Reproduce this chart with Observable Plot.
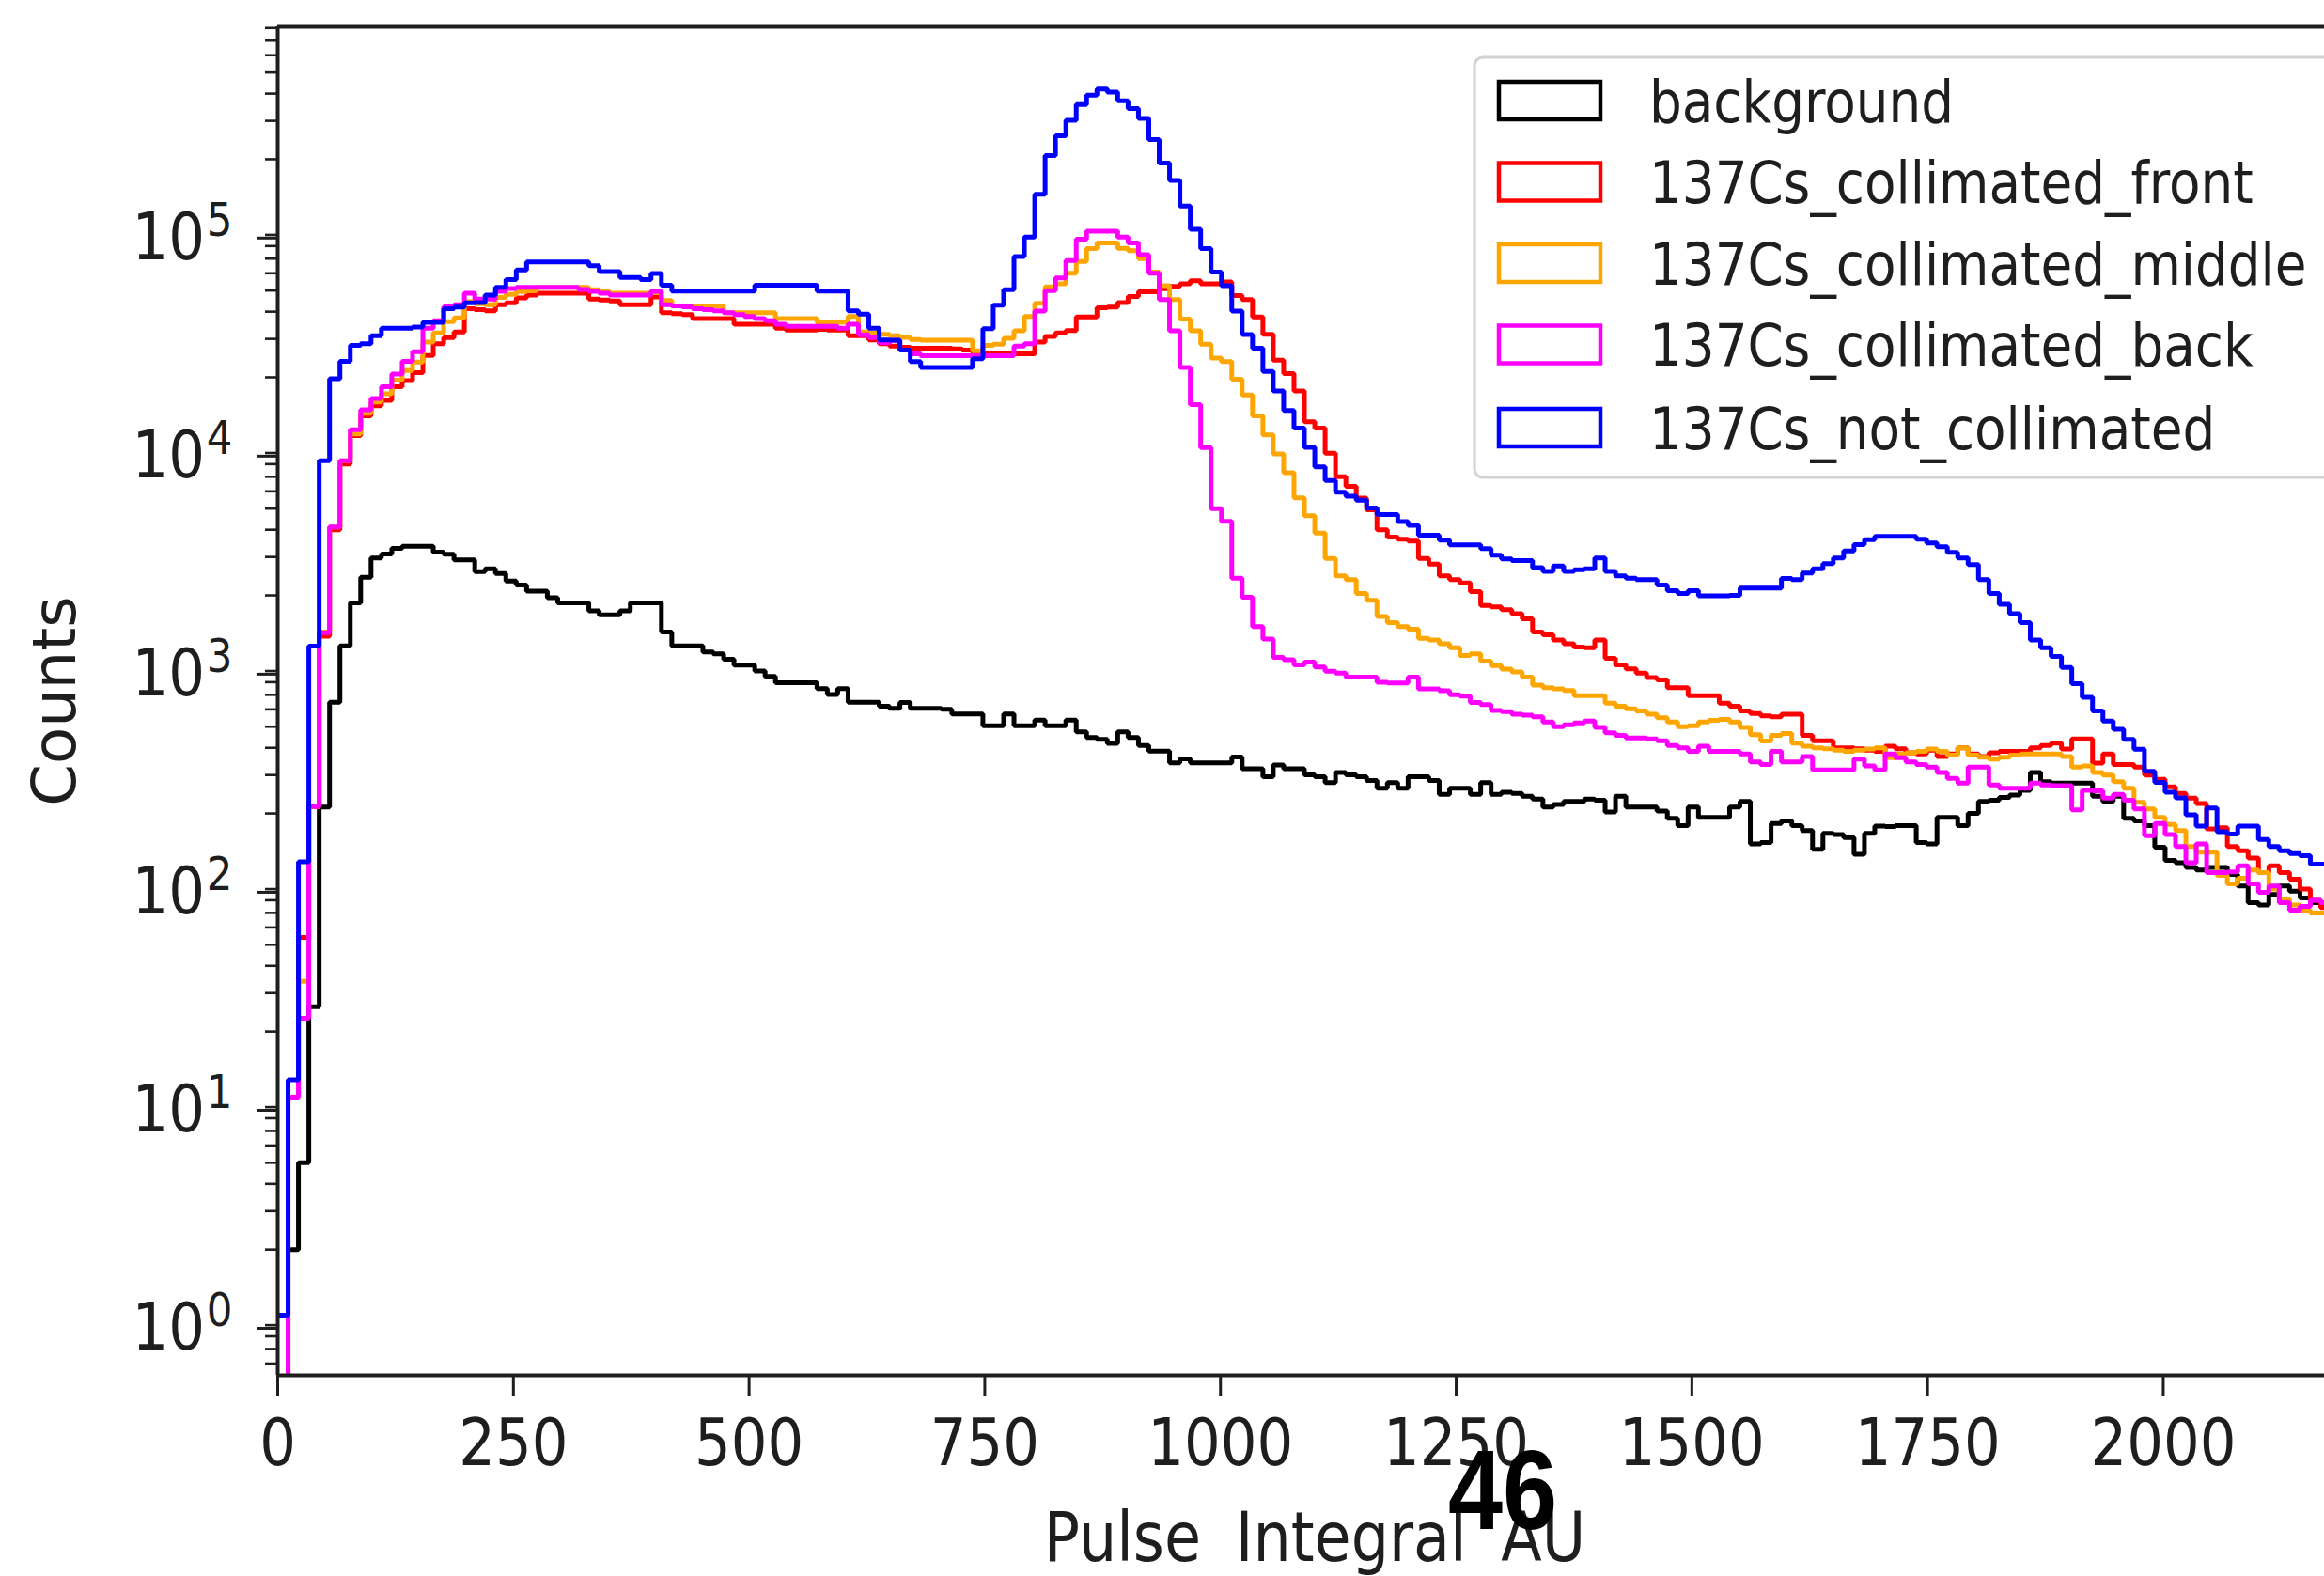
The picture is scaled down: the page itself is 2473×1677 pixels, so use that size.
<!DOCTYPE html>
<html>
<head>
<meta charset="utf-8">
<script src="https://cdn.jsdelivr.net/npm/d3@7"></script>
<script src="https://cdn.jsdelivr.net/npm/@observablehq/plot@0.6"></script>
<style>
html, body { margin: 0; padding: 0; background: #ffffff; }
#wrap { position: relative; width: 2473px; height: 1677px; overflow: hidden; background: #fff; }
svg { overflow: hidden; }
</style>
</head>
<body>
<div id="wrap"></div>
<script>
// ---------------- data (histogram counts per bin, bin width 11 AU starting at 0) ----------------
const binWidth = 11;
const binStart = 0;

const background = [
0.3,2,5,26,214,647,1175,1850,2420,2970,3100,3290,3360,3360,3360,3160,3090,2910,2910,2570,
2650,2520,2330,2230,2090,2090,1950,1850,1850,1850,1700,1630,1630,1700,1850,1850,1850,1360,1175,1175,
1175,1100,1080,1020,957,957,900,850,796,796,796,796,748,703,748,647,647,647,621,607,
645,607,607,607,600,571,571,571,505,505,571,505,505,536,505,505,536,474,446,437,
419,474,446,410,386,386,341,356,341,341,341,341,363,321,321,295,334,321,321,301,
295,277,308,301,295,283,261,277,261,295,295,283,245,261,261,245,277,245,250,247,
240,233,214,220,227,227,233,230,203,240,214,214,214,205,190,176,214,192,192,192,
214,227,145,147,180,185,176,167,137,162,160,155,130,162,175,174,176,176,147,145,
192,192,176,200,227,230,237,243,255,308,280,276,276,276,276,240,227,240,190,185,
176,140,122,119,113,110,113,113,105,93,78,76,85,93,88,82,78,76
];

const collimatedFront = [
0.3,10,54,215,1300,4000,8000,10800,13300,14800,15700,18100,19300,21000,25200,28500,30400,32300,41300,40900,
40400,43000,43900,46300,47600,48600,48600,48600,48600,48600,45700,45200,44800,43000,43000,43000,46700,39600,39200,38800,
37200,37200,37200,37200,35000,35000,35000,35000,33600,32900,32900,32900,33200,32900,32900,31000,31000,29700,28500,27800,
27500,27200,27200,27200,27200,27000,26700,26000,25600,25600,25600,25600,25600,29000,30800,32000,32800,37800,37800,41700,
42000,44000,47000,49400,49400,51000,52200,53700,55500,53700,53700,54800,47400,45500,37800,31500,24000,20800,17300,12500,
11700,8970,7000,6330,5590,4940,4000,3700,3620,3550,2950,2780,2460,2360,2280,2080,1800,1770,1720,1650,
1560,1360,1320,1250,1200,1160,1150,1250,1030,960,920,880,840,820,754,754,693,693,693,640,
620,590,575,560,555,570,570,456,431,431,400,400,396,390,385,407,396,380,375,390,
365,375,400,375,365,380,385,385,385,400,410,420,395,440,440,340,375,335,335,326,
300,287,265,247,235,222,170,172,141,135,125,107,115,107,100,90,80,74
];

const collimatedMiddle = [
0.3,10,34,215,1360,4120,8300,11000,13700,15400,16800,19400,21500,23500,29000,32000,36000,37500,44500,43500,
43000,46500,48000,49500,50000,51700,51700,51700,51700,51700,50500,49500,48600,48600,48600,48600,49000,45000,42500,42500,
42500,42500,42500,39600,39600,39600,39600,39600,37200,37200,37200,37200,35700,35700,35700,38000,32300,32000,31500,31000,
30500,29800,29600,29600,29600,29600,29600,26500,28000,28400,30200,32700,38000,43700,52000,53700,60000,68000,77800,82700,
82700,78000,76200,70000,60700,52600,45500,37000,32700,28400,24500,23600,19600,16600,13300,10900,8900,7300,5600,4640,
3860,2950,2460,2360,2040,1900,1600,1500,1440,1400,1270,1250,1200,1150,1060,1080,1000,953,917,891,
843,776,754,745,733,693,693,693,640,620,603,590,570,550,525,500,505,525,535,540,
525,496,460,430,456,465,420,407,400,396,390,385,390,395,400,360,375,380,385,395,
385,370,400,370,362,355,362,370,375,375,375,375,365,326,330,308,300,280,261,225,
210,192,178,167,141,133,133,104,95,101,110,107,90,81,76,72,70,70
];

const collimatedBack = [
0.3,10,23,215,1350,4120,8300,11500,14200,16000,18100,20700,23700,26200,33600,36400,42100,43000,48600,45700,
45700,49600,51100,51700,51700,51700,51700,51700,51700,50600,49600,48600,47600,47600,47600,47600,49600,43000,42500,42100,
41300,40900,40400,39600,38800,38000,37200,36400,35000,34300,34300,34300,34300,34300,33600,35000,31300,30400,28800,29500,
26700,25600,25100,25100,25100,25100,25100,25100,25100,25100,25100,27800,28500,40300,50000,57100,68700,86000,93500,93500,
93500,88000,82600,73100,60000,45500,32700,22200,15000,9530,5000,4370,2400,1960,1440,1260,1040,1015,960,990,
940,898,880,843,843,843,800,793,793,843,745,745,730,700,690,645,632,594,586,570,
565,555,525,500,510,520,530,496,469,456,444,444,440,431,410,400,385,407,385,385,
385,375,345,335,385,345,345,365,317,317,317,317,355,330,317,375,360,345,335,326,
308,290,276,326,326,270,261,261,261,276,270,268,268,208,255,254,235,245,230,210,
158,180,160,141,119,145,107,107,108,115,95,87,93,78,72,75,80,78
];

const notCollimated = [
1,12,120,1170,8300,19700,23700,28000,28500,31000,33600,33600,33600,34000,35700,35700,41300,42000,43900,44000,
47600,51700,56200,62200,67600,67600,67600,67600,67600,67600,64900,61000,61000,57400,57400,56200,59800,52900,49700,49700,
49700,49700,49700,49700,49700,49700,52900,52900,52900,52900,52900,52900,49700,49700,49700,40400,39000,33600,29700,29600,
26700,23600,22200,22200,22200,22200,22200,24300,33400,42800,50500,71600,87900,138000,208000,256000,302000,356000,394000,420000,
406000,371000,342000,308000,246000,192000,160000,122000,95500,77800,60700,52600,40300,31400,27200,21300,17300,14100,11700,9550,
7770,6730,5940,5700,5470,5040,4700,4700,4360,4190,3780,3780,3580,3410,3410,3410,3280,3060,2940,2890,
2890,2680,2580,2730,2580,2620,2650,2970,2580,2460,2400,2360,2360,2230,2100,2040,2100,1990,1990,1990,
2000,2160,2160,2160,2160,2390,2360,2530,2650,2800,2970,3200,3420,3600,3730,3730,3730,3730,3620,3480,
3340,3150,2970,2770,2360,2040,1820,1650,1500,1250,1150,1050,935,787,681,590,531,487,437,394,
312,278,250,236,197,175,212,165,161,175,175,152,141,135,131,128,117,117
];

const seriesNames = ["background", "137Cs_collimated_front", "137Cs_collimated_middle", "137Cs_collimated_back", "137Cs_not_collimated"];
const seriesValues = [background, collimatedFront, collimatedMiddle, collimatedBack, notCollimated];
const seriesColors = ["#000000", "#ff0000", "#ffa500", "#ff00ff", "#0000ff"];

const xTicks = [0, 250, 500, 750, 1000, 1250, 1500, 1750, 2000];
const yMajorTicks = [1, 10, 100, 1000, 10000, 100000];
const xLabel = "Pulse Integral AU";
const yLabel = "Counts";
const pageNumber = "46";

// ---------------- layout ----------------
const W = 2473, H = 1677;
const SQ = 0.87;              // horizontal squeeze of the source image text
const FONT = "DejaVu Sans";
const INK = "#1e1e1e";
const TICK_FONT = 70;

const yDomain = [0.53, 8.1e5];
const xDomain = [0, 2171];

const yMinorTicks = [];
for (let k = -1; k <= 5; k++) for (let m = 2; m <= 9; m++) {
  const v = m * Math.pow(10, k);
  if (v >= yDomain[0] && v <= yDomain[1]) yMinorTicks.push(v);
}

const supMap = {"0":"⁰","1":"¹","2":"²","3":"³","4":"⁴","5":"⁵","6":"⁶","7":"⁷","8":"⁸","9":"⁹","-":"⁻"};
const fmtPow = d => "10" + String(Math.round(Math.log10(d))).split("").map(c => supMap[c]).join("");

function stepPoints(values) {
  const pts = values.map((v, i) => ({x: binStart + i * binWidth, y: v}));
  pts.push({x: binStart + values.length * binWidth, y: values[values.length - 1]});
  return pts;
}

const lineMarks = seriesValues.map((vals, k) =>
  Plot.line(stepPoints(vals), {
    x: "x", y: "y", curve: "step-after",
    stroke: seriesColors[k], strokeWidth: 5, strokeLinejoin: "miter", clip: true
  })
);

const plot = Plot.plot({
  width: W, height: H,
  marginLeft: 295, marginRight: 0, marginTop: 28, marginBottom: H - 1463,
  style: {fontFamily: FONT, background: "#ffffff", color: INK},
  x: {domain: xDomain, label: null},
  y: {type: "log", domain: yDomain, label: null},
  marks: [
    ...lineMarks,
    Plot.axisY({ticks: yMinorTicks, tickSize: 13, tickFormat: () => "", strokeWidth: 2.6, stroke: INK, label: null}),
    Plot.axisY({ticks: yMajorTicks, tickSize: 22, tickPadding: 26, tickFormat: fmtPow, fontSize: TICK_FONT, fill: INK, stroke: INK, strokeWidth: 3, dy: 14, label: null}),
    Plot.axisX({ticks: xTicks, tickSize: 22, tickPadding: 24, tickFormat: d => String(d), fontSize: TICK_FONT, fill: INK, stroke: INK, strokeWidth: 3, label: null}),
    Plot.ruleX([xDomain[0]], {stroke: INK, strokeWidth: 4}),
    Plot.ruleY([yDomain[0]], {stroke: INK, strokeWidth: 4}),
    Plot.ruleY([yDomain[1]], {stroke: INK, strokeWidth: 4})
  ]
});

document.getElementById("wrap").appendChild(plot);
const svg = d3.select(plot);

// turn unicode superscripts of the y tick labels into a raised, smaller tspan (mathtext look)
const supBack = Object.fromEntries(Object.entries(supMap).map(([k, v]) => [v, k]));
plot.querySelectorAll("text").forEach(t => {
  const s = t.textContent;
  if (/^10[⁰¹²³⁴⁵⁶⁷⁸⁹⁻]+$/.test(s)) {
    const exp = s.slice(2).split("").map(c => supBack[c]).join("");
    while (t.firstChild) t.removeChild(t.firstChild);
    t.appendChild(document.createTextNode("10"));
    const ts = document.createElementNS("http://www.w3.org/2000/svg", "tspan");
    ts.setAttribute("font-size", Math.round(TICK_FONT * 0.72));
    ts.setAttribute("dy", -Math.round(TICK_FONT * 0.36));
    ts.setAttribute("dx", 2);
    ts.textContent = exp;
    t.appendChild(ts);
  }
});

// squeeze existing tick labels horizontally about their anchor
plot.querySelectorAll("text").forEach(t => {
  const tr = t.getAttribute("transform");
  if (tr) {
    t.setAttribute("transform", tr + ` scale(${SQ},1)`);
  } else {
    const x = parseFloat(t.getAttribute("x"));
    if (!isNaN(x)) {
      t.setAttribute("x", 0);
      t.setAttribute("transform", `translate(${x},0) scale(${SQ},1)`);
    }
  }
});

// axis labels
svg.append("text")
  .attr("transform", `translate(80,746) rotate(-90)`)
  .attr("text-anchor", "middle")
  .attr("font-family", FONT).attr("font-size", 64).attr("fill", INK)
  .text(yLabel);

svg.append("text")
  .attr("transform", `translate(1399,1661) scale(${SQ},1)`)
  .attr("text-anchor", "middle")
  .attr("font-family", FONT).attr("font-size", 73).attr("fill", INK)
  .attr("word-spacing", "0.26em")
  .text(xLabel);

// legend
const lg = svg.append("g");
lg.append("rect")
  .attr("x", 1569).attr("y", 61).attr("width", 1000).attr("height", 447)
  .attr("rx", 9).attr("fill", "#ffffff").attr("fill-opacity", 0.9)
  .attr("stroke", "#d2d2d2").attr("stroke-width", 3);
const rows = [107, 193.5, 280, 366.5, 455];
seriesNames.forEach((name, k) => {
  lg.append("rect")
    .attr("x", 1595).attr("y", rows[k] - 20).attr("width", 108).attr("height", 40)
    .attr("fill", "none").attr("stroke", seriesColors[k]).attr("stroke-width", 4.5);
  lg.append("text")
    .attr("transform", `translate(1755,${rows[k]}) scale(${SQ},1)`)
    .attr("text-anchor", "start")
    .attr("dy", "0.36em")
    .attr("font-family", FONT).attr("font-size", 63).attr("fill", INK)
    .text(name);
});

// page number overlay
svg.append("text")
  .attr("transform", `translate(1599,1627) scale(${SQ},1)`)
  .attr("text-anchor", "middle")
  .attr("font-family", "Liberation Sans, Arial, sans-serif")
  .attr("font-weight", "bold").attr("font-size", 120).attr("fill", "#000")
  .text(pageNumber);
</script>
</body>
</html>
